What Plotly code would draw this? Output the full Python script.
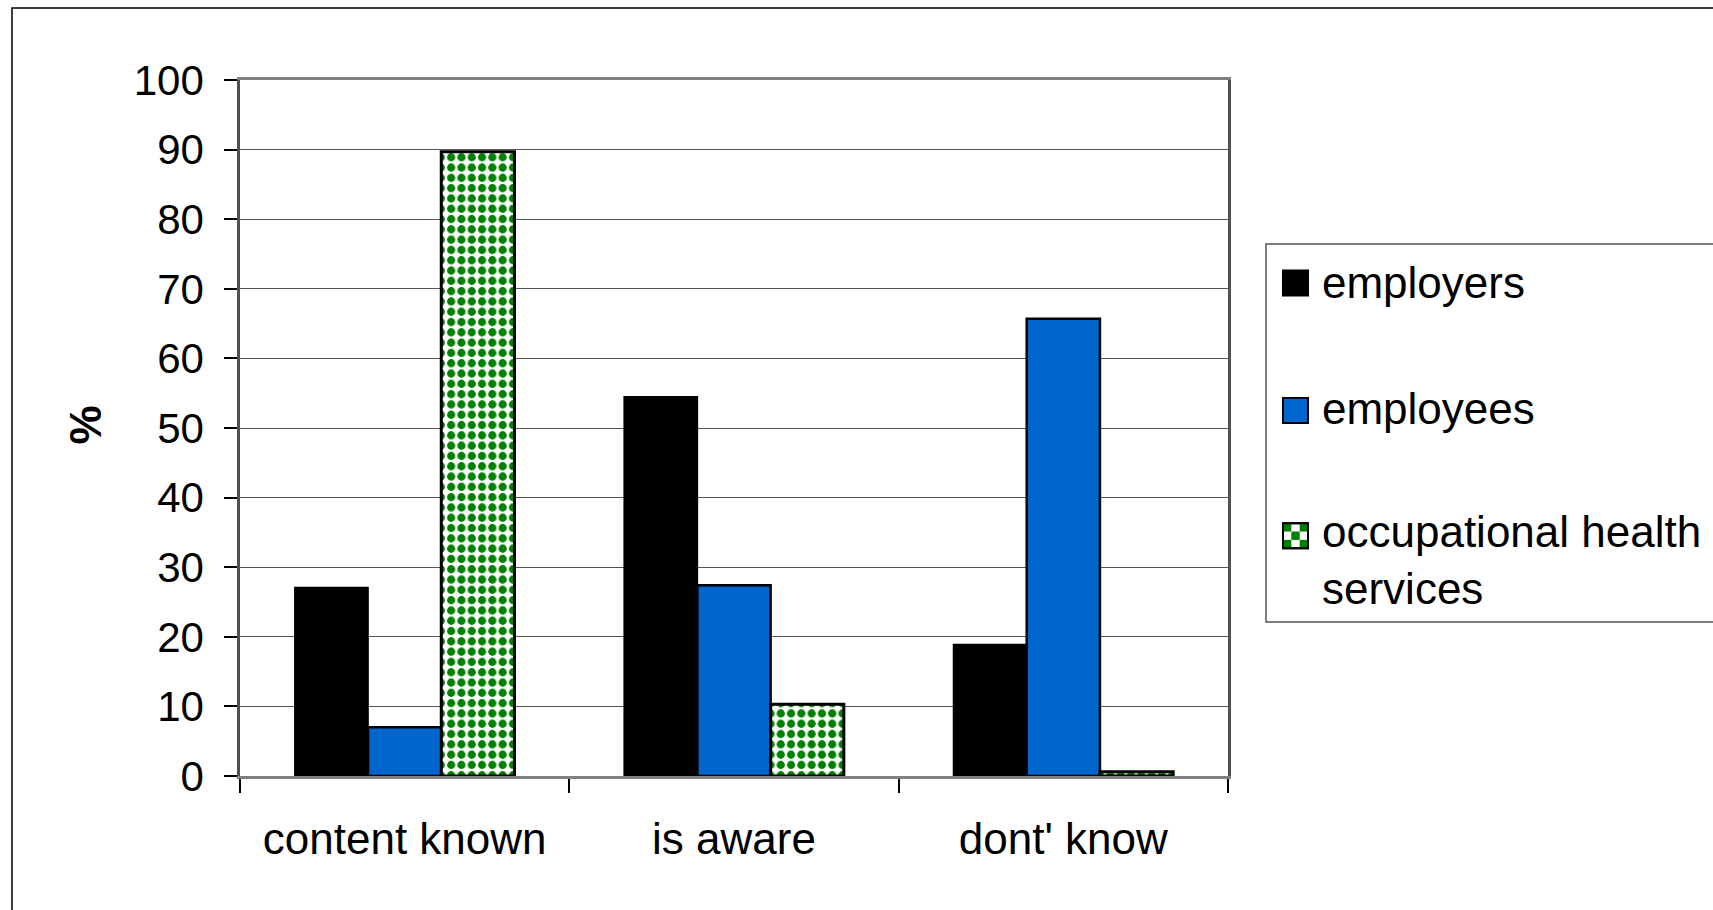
import plotly.graph_objects as go

categories = ["content known", "is aware", "dont' know"]
series_names = ["employers", "employees", "occupational health<br>services"]
employers = [27.1, 54.5, 18.9]
employees = [7.0, 27.4, 65.7]
occ_health = [89.7, 10.3, 0.6]
y_ticks = list(range(0, 101, 10))

FONT = "Liberation Sans, Arial, sans-serif"
GREEN = "#008000"
BLUE = "#0066CC"

fig = go.Figure()
fig.add_trace(go.Bar(
    x=categories, y=employers, name=series_names[0],
    marker=dict(color="#000000", line=dict(color="#000000", width=1.5)),
))
fig.add_trace(go.Bar(
    x=categories, y=employees, name=series_names[1],
    marker=dict(color=BLUE, line=dict(color="#000000", width=2.5)),
))
fig.add_trace(go.Bar(
    x=categories, y=occ_health, name=series_names[2],
    marker=dict(
        color="white",
        line=dict(color="#000000", width=3),
        pattern=dict(shape=".", fgcolor=GREEN, bgcolor="white",
                     size=10.3, solidity=0.5, fillmode="replace"),
    ),
))

fig.update_layout(
    width=1713, height=910,
    margin=dict(l=240, r=485, t=80, b=134),
    paper_bgcolor="white", plot_bgcolor="white",
    barmode="group", bargap=0.333, bargroupgap=0,
    showlegend=False,
    font=dict(family=FONT, size=44, color="#000000"),
)

fig.update_xaxes(
    type="category",
    showline=True, linecolor="#808080", linewidth=2.5, mirror=True,
    ticks="outside", tickson="boundaries", ticklen=14, tickcolor="#000000", tickwidth=1.5,
    showgrid=False,
    tickfont=dict(family=FONT, size=44),
    ticklabelstandoff=22,
)
fig.update_yaxes(
    range=[0, 100], tickvals=y_ticks,
    showline=True, linecolor="#505050", linewidth=2.5, mirror=True,
    ticks="outside", ticklen=13, tickcolor="#000000", tickwidth=1.5,
    showgrid=True, gridcolor="#555555", gridwidth=1.2,
    zeroline=False,
    tickfont=dict(family=FONT, size=42),
    ticklabelstandoff=12,
)

# Y-axis title
fig.add_annotation(
    text="<b>%</b>", xref="paper", yref="paper", x=-0.156, y=0.505,
    showarrow=False, textangle=-90, font=dict(family=FONT, size=44),
    xanchor="center", yanchor="middle",
)

# Outer chart frame
fig.add_shape(type="rect", xref="paper", yref="paper",
              x0=-0.2308, x1=1.6, y0=-0.3, y1=1.1034,
              line=dict(color="#000000", width=1.5), layer="below")

# Legend box with swatches and labels
L, T, PW, PH = 240, 80, 988, 696


def px_x(v):
    return (v - L) / PW


def px_y(v):
    return 1 - (v - T) / PH


fig.add_shape(type="rect", xref="paper", yref="paper",
              x0=px_x(1266), x1=px_x(1760), y0=px_y(622), y1=px_y(244),
              line=dict(color="#555555", width=1.5), fillcolor="white", layer="below")

swatch_centers = [283, 410.5, 535.7]
label_centers = [282, 408, 560]
swatch_fills = ["#000000", BLUE, "white"]
SW = 25
for name, cy, ly, fill in zip(series_names, swatch_centers, label_centers, swatch_fills):
    x0, y0 = 1283, cy - SW / 2
    fig.add_shape(type="rect", xref="paper", yref="paper",
                  x0=px_x(x0), x1=px_x(x0 + SW), y0=px_y(y0 + SW), y1=px_y(y0),
                  line=dict(color="#000000", width=2), fillcolor=fill)
    if fill == "white":
        # small checkerboard swatch for the patterned series
        c = SW / 3
        for i in range(3):
            for j in range(3):
                if (i + j) % 2 == 0:
                    fig.add_shape(type="rect", xref="paper", yref="paper",
                                  x0=px_x(x0 + i * c), x1=px_x(x0 + (i + 1) * c),
                                  y0=px_y(y0 + (j + 1) * c), y1=px_y(y0 + j * c),
                                  line=dict(width=0), fillcolor=GREEN)
        fig.add_shape(type="rect", xref="paper", yref="paper",
                      x0=px_x(x0), x1=px_x(x0 + SW), y0=px_y(y0 + SW), y1=px_y(y0),
                      line=dict(color="#000000", width=2), fillcolor="rgba(0,0,0,0)")
    fig.add_annotation(
        text=name, xref="paper", yref="paper", x=px_x(1320), y=px_y(ly),
        showarrow=False, xanchor="left", yanchor="middle",
        align="left", font=dict(family=FONT, size=44),
    )

fig.write_html("out.html")
